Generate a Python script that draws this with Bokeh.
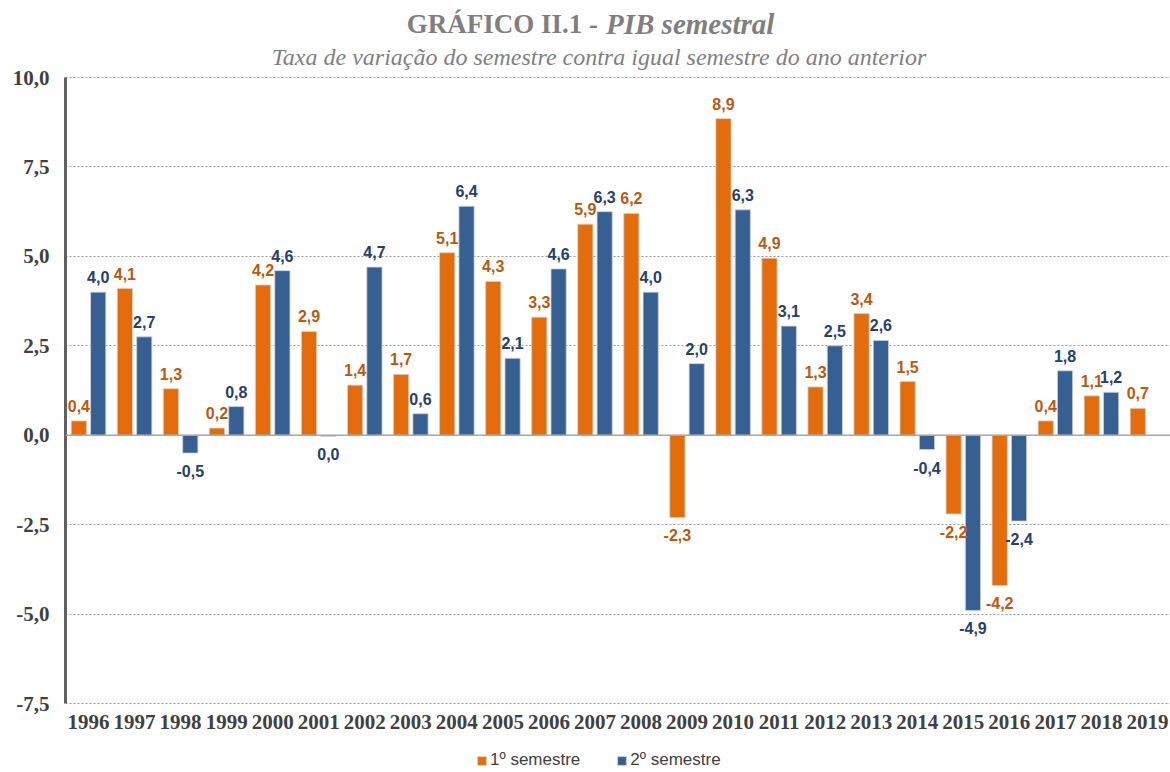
from bokeh.plotting import figure
from bokeh.models import (ColumnDataSource, FactorRange, FixedTicker, CustomJSTickFormatter,
                          Span, Label, Legend, LegendItem)
from bokeh.transform import dodge
from bokeh.embed import file_html
from bokeh.resources import INLINE
from bokeh.core.properties import value

# ---------------- data ----------------
years = [str(y) for y in range(1996, 2020)]
sem1 = [0.4, 4.1, 1.3, 0.2, 4.2, 2.9, 1.4, 1.7, 5.1, 4.3, 3.3, 5.9,
        6.2, -2.3, 8.85, 4.95, 1.35, 3.4, 1.5, -2.2, -4.2, 0.4, 1.1, 0.75]
sem2 = [4.0, 2.75, -0.5, 0.8, 4.6, -0.03, 4.7, 0.6, 6.4, 2.15, 4.65, 6.25,
        4.0, 2.0, 6.3, 3.05, 2.5, 2.65, -0.4, -4.9, -2.4, 1.8, 1.2, float("nan")]
label1 = [0.4, 4.1, 1.3, 0.2, 4.2, 2.9, 1.4, 1.7, 5.1, 4.3, 3.3, 5.9,
          6.2, -2.3, 8.9, 4.9, 1.3, 3.4, 1.5, -2.2, -4.2, 0.4, 1.1, 0.7]
label2 = [4.0, 2.7, -0.5, 0.8, 4.6, 0.0, 4.7, 0.6, 6.4, 2.1, 4.6, 6.3,
          4.0, 2.0, 6.3, 3.1, 2.5, 2.6, -0.4, -4.9, -2.4, 1.8, 1.2, None]
y_ticks = [-7.5, -5.0, -2.5, 0.0, 2.5, 5.0, 7.5, 10.0]
series_names = ["1º semestre", "2º semestre"]
title_main = "GRÁFICO II.1 -"
title_ital = "PIB  semestral"
subtitle = "Taxa de variação do semestre contra igual semestre do ano anterior"

ORANGE = "#E46C0A"
BLUE = "#376092"
ORANGE_TXT = "#B85A10"
BLUE_TXT = "#25406A"
GRAY_TXT = "#404040"

W, H = 1170, 770
LEFT = 65
Y_TOP_PX, Y_BOT_PX = 77, 703          # pixel rows of 10,0 and -7,5
PPU = (Y_BOT_PX - Y_TOP_PX) / 17.5
Y_MAX = 10 + Y_TOP_PX / PPU
Y_MIN = -7.5 - (H - Y_BOT_PX) / PPU


def fmt(v):
    s = f"{abs(v):.1f}".replace(".", ",")
    return "-" + s if round(v, 1) < 0 else s


p = figure(x_range=FactorRange(*years), y_range=(Y_MIN, Y_MAX),
           width=W, height=H, output_backend="svg", toolbar_location=None,
           min_border_left=LEFT, min_border_right=0, min_border_top=0, min_border_bottom=0)
p.title.visible = False
p.outline_line_color = None
p.background_fill_color = "white"
p.xgrid.grid_line_color = None
p.ygrid.ticker = FixedTicker(ticks=y_ticks)
p.ygrid.grid_line_color = "#9a9a9a"
p.ygrid.grid_line_dash = "2 2"
p.ygrid.grid_line_width = 1
p.ygrid.bounds = (-7.5, 10)

src1 = ColumnDataSource(dict(year=years, v=sem1))
src2 = ColumnDataSource(dict(year=years, v=sem2))

off = 0.21
bw = 0.33
r1 = p.vbar(x=dodge("year", -off, range=p.x_range), top="v", width=bw, source=src1,
            fill_color=ORANGE, line_color="#d0d0d0", line_width=0.8)
r2 = p.vbar(x=dodge("year", off, range=p.x_range), top="v", width=bw, source=src2,
            fill_color=BLUE, line_color="#d0d0d0", line_width=0.8)

p.add_layout(Span(location=0, dimension="width", line_color="#a6a6a6", line_width=1.5))

# data labels
for labels, dx, col in ((label1, -off, ORANGE_TXT), (label2, off, BLUE_TXT)):
    pos = dict(year=[], v=[], t=[])
    neg = dict(year=[], v=[], t=[])
    for yr, val, bar in zip(years, labels, sem1 if dx < 0 else sem2):
        if val is None:
            continue
        d = pos if bar >= 0 else neg
        d["year"].append(yr)
        d["v"].append(bar)
        d["t"].append(fmt(val))
    for d, base, yo in ((pos, "bottom", -9), (neg, "top", 12)):
        p.text(x=dodge("year", dx, range=p.x_range), y="v", text="t",
               source=ColumnDataSource(d), text_align="center", text_baseline=base,
               y_offset=yo, text_font=value("Liberation Sans"), text_font_style="bold",
               text_font_size="16px", text_color=col)

# axes
p.yaxis.ticker = FixedTicker(ticks=y_ticks)
p.yaxis.bounds = (-7.5, 10)
p.yaxis.formatter = CustomJSTickFormatter(code="return tick.toFixed(1).replace('.', ',');")
p.yaxis.axis_line_width = 3
p.yaxis.axis_line_color = "#606060"
p.yaxis.major_tick_line_color = None
p.yaxis.minor_tick_line_color = None
p.yaxis.major_label_standoff = 10
p.yaxis.major_label_text_font = "Liberation Serif"
p.yaxis.major_label_text_font_style = "bold"
p.yaxis.major_label_text_font_size = "21px"
p.yaxis.major_label_text_color = GRAY_TXT

p.xaxis.fixed_location = -7.5
p.xaxis.axis_line_color = None
p.xaxis.major_tick_line_color = None
p.xaxis.minor_tick_line_color = None
p.xaxis.major_label_standoff = 5
p.xaxis.major_label_text_font = "Liberation Serif"
p.xaxis.major_label_text_font_style = "bold"
p.xaxis.major_label_text_font_size = "21px"
p.xaxis.major_label_text_color = GRAY_TXT

# titles (inside the frame, above the 10,0 line)
y_title = Y_MAX - 23 / PPU
y_sub = Y_MAX - 56 / PPU
p.add_layout(Label(x=12, y=y_title, text=title_main, text_align="right", text_baseline="middle",
                   x_offset=-20, text_font="Liberation Serif", text_font_style="bold",
                   text_font_size="27px", text_color="#7f7f7f"))
p.add_layout(Label(x=12, y=y_title, text=title_ital, text_align="left", text_baseline="middle",
                   x_offset=-12, text_font="Liberation Serif", text_font_style="bold italic",
                   text_font_size="29px", text_color="#7f7f7f"))
p.add_layout(Label(x=12, y=y_sub, text=subtitle, text_align="center", text_baseline="middle",
                   x_offset=-19, text_font="Liberation Serif", text_font_style="italic",
                   text_font_size="24px", text_color="#7f7f7f"))

legend = Legend(items=[LegendItem(label=series_names[0], renderers=[r1]),
                       LegendItem(label=series_names[1], renderers=[r2])],
                orientation="horizontal", location=(411, 0),
                glyph_width=11, glyph_height=11, label_standoff=3, spacing=36,
                label_text_font="Liberation Sans", label_text_font_size="17px",
                label_text_color=GRAY_TXT, border_line_color=None,
                background_fill_alpha=0, padding=1, margin=0)
p.add_layout(legend, "center")

open("out.html", "w").write(file_html(p, INLINE))
